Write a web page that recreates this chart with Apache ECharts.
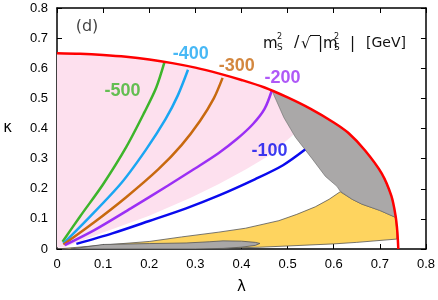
<!DOCTYPE html>
<html><head><meta charset="utf-8">
<script src="https://cdn.jsdelivr.net/npm/echarts@6/dist/echarts.min.js"></script>
<style>html,body{margin:0;padding:0;background:#fff}#c{width:438px;height:300px}</style>
</head><body><div id="c"></div>
<script>
const xTickLabels = ['0','0.1','0.2','0.3','0.4','0.5','0.6','0.7','0.8'];
const yTickLabels = ['0','0.1','0.2','0.3','0.4','0.5','0.6','0.7','0.8'];

const redBoundary = [[0,0.650],[0.05,0.648],[0.1,0.644],[0.15,0.638],[0.2,0.629],[0.25,0.617],[0.3,0.602],[0.35,0.583],[0.4,0.561],[0.45,0.536],[0.5,0.503],[0.55,0.465],[0.6,0.420],[0.632,0.385],[0.668,0.327],[0.704,0.251],[0.725,0.176],[0.734,0.111],[0.738,0.056],[0.740,0.0]];

const curveM500 = [[0.012,0.024],[0.05,0.108],[0.1,0.215],[0.15,0.338],[0.19,0.455],[0.215,0.535],[0.233,0.620]];
const curveM400 = [[0.0136,0.018],[0.07,0.105],[0.14,0.220],[0.193,0.330],[0.235,0.430],[0.262,0.510],[0.284,0.595]];
const curveM300 = [[0.014,0.015],[0.08,0.088],[0.15,0.172],[0.22,0.265],[0.27,0.345],[0.31,0.425],[0.34,0.500],[0.359,0.568]];
const curveM200 = [[0.017,0.013],[0.08,0.062],[0.16,0.135],[0.24,0.210],[0.3,0.268],[0.35,0.318],[0.39,0.365],[0.425,0.415],[0.45,0.465],[0.466,0.527]];
const curveM100 = [[0.042,0.017],[0.12,0.052],[0.2,0.093],[0.28,0.135],[0.35,0.177],[0.43,0.232],[0.49,0.278],[0.538,0.330]];

const pinkRegion = [[0,0.650],[0.05,0.648],[0.1,0.644],[0.15,0.638],[0.2,0.629],[0.25,0.617],[0.3,0.602],[0.35,0.583],[0.4,0.561],[0.45,0.536],[0.466,0.527],[0.470,0.512],[0.492,0.436],[0.513,0.380],[0.46,0.310],[0.41,0.265],[0.35,0.215],[0.29,0.170],[0.2,0.110],[0.1,0.055],[0.015,0.005],[0,0.005]];
const yellowRegion = [[0,0],[0.1,0.013],[0.2,0.025],[0.27,0.040],[0.351,0.056],[0.409,0.069],[0.481,0.094],[0.52,0.115],[0.56,0.140],[0.59,0.165],[0.614,0.190],[0.64,0.165],[0.661,0.149],[0.7,0.128],[0.734,0.105],[0.737,0.060],[0.737,0.033],[0.65,0.022],[0.6,0.017],[0.5,0.010],[0.44,0.006],[0.3,0],[0,0]];
const grayUpperRegion = [[0.466,0.527],[0.470,0.512],[0.492,0.436],[0.517,0.371],[0.553,0.300],[0.582,0.241],[0.607,0.208],[0.614,0.192],[0.64,0.165],[0.661,0.149],[0.7,0.128],[0.734,0.105],[0.734,0.111],[0.725,0.176],[0.704,0.251],[0.668,0.327],[0.632,0.385],[0.6,0.420],[0.55,0.465],[0.5,0.503]];
const grayLowerRegion = [[0.03,0],[0.1,0.015],[0.2,0.018],[0.28,0.020],[0.33,0.024],[0.36,0.027],[0.4,0.026],[0.43,0.022],[0.44,0.0185],[0.43,0.012],[0.4,0.006],[0.36,0.002],[0.3,0]];

const curveLabels = ['-500','-400','-300','-200','-100'];
const labelAnchors = [[0.142,0.524],[0.290,0.647],[0.390,0.608],[0.489,0.566],[0.461,0.325]];
const curveColors = ['#3db52b','#1aa6f2','#c8690f','#9b2ff5','#0a0aee'];
const panelTag = '(d)';
const panelAnchor = [[0.065,0.737]];

const chart = echarts.init(document.getElementById('c'), null, {renderer:'canvas'});

function poly(pts, fill, stroke, lw, z) {
  return {type:'custom', coordinateSystem:'cartesian2d', xAxisIndex:0, yAxisIndex:0, data: pts, silent:true, z:z, clip:true,
    renderItem:(params, api) => {
      if (params.dataIndex !== 0) return null;
      return {type:'polygon', shape:{points: pts.map(p => api.coord(p))}, style:{fill:fill, stroke:stroke, lineWidth:lw}};
    }};
}
function curve(pts, color, z, w) {
  return {type:'line', data: pts, xAxisIndex:0, yAxisIndex:0, showSymbol:false, smooth:0.3, silent:true, z:z,
    lineStyle:{color:color, width:w}};
}
const tickFmtX = v => xTickLabels[Math.round(v*10)];
const tickFmtY = v => yTickLabels[Math.round(v*10)];
const axLine = {show:true, onZero:false, lineStyle:{color:'#000', width:1.5}};
const axTick = {show:true, inside:true, length:5, lineStyle:{color:'#000', width:1}};
const baseFont = 'Liberation Sans, Arial, sans-serif';

const curves = [curveM500, curveM400, curveM300, curveM200, curveM100];
const series = [
  poly(pinkRegion, '#fde0ee', 'none', 0, 1),
  poly(yellowRegion, '#fed45f', '#555', 0.8, 2),
  poly(grayUpperRegion, '#aaa8a8', '#666', 0.6, 3),
  poly(grayLowerRegion, '#a9a7a7', '#555', 0.8, 3),
];
curves.forEach((c,i) => series.push(curve(c, curveColors[i], 5, 2.5)));
series.push(curve(redBoundary, '#ff0000', 6, 2.5));
series.push({type:'scatter', data: labelAnchors.map((p,i)=>({value:p, label:{show:true, formatter:curveLabels[i], color:curveColors[i]}})),
  symbolSize:0, silent:true, z:7,
  label:{position:'inside', fontSize:18, fontWeight:'bold', fontFamily:baseFont}});
series.push({type:'scatter', data: panelAnchor, symbolSize:0, silent:true, z:7,
  label:{show:true, position:'inside', formatter:panelTag, fontSize:16, color:'#111', fontFamily:'DejaVu Sans, sans-serif'}});

const mt = (t, x, y, size, extra) => Object.assign({type:'text', x:x, y:y, z:10, silent:true,
  style:{text:t, fontSize:size, fontFamily:'DejaVu Sans, sans-serif', fill:'#111', textVerticalAlign:'middle', textAlign:'left'}}, extra||{});

chart.setOption({
  animation:false,
  backgroundColor:'#fff',
  grid:{left:57, right:10, top:8, bottom:46, containLabel:false},
  xAxis:[
    {type:'value', min:0, max:0.8, interval:0.1, position:'bottom', axisLine:axLine, axisTick:axTick,
     axisLabel:{formatter:tickFmtX, color:'#000', fontSize:13, fontFamily:baseFont, margin:9},
     splitLine:{show:false}, name:'λ', nameLocation:'middle', nameGap:31,
     nameTextStyle:{fontSize:15, color:'#000', fontFamily:'DejaVu Sans, sans-serif'}},
    {type:'value', min:0, max:0.8, interval:0.1, position:'top', axisLine:axLine, axisTick:axTick,
     axisLabel:{show:false}, splitLine:{show:false}}
  ],
  yAxis:[
    {type:'value', min:0, max:0.8, interval:0.1, position:'left', axisLine:axLine, axisTick:axTick,
     axisLabel:{formatter:tickFmtY, color:'#000', fontSize:13, fontFamily:baseFont, margin:9},
     splitLine:{show:false}, name:'κ', nameLocation:'middle', nameGap:45, nameRotate:0,
     nameTextStyle:{fontSize:15, color:'#000', fontFamily:'DejaVu Sans, sans-serif'}},
    {type:'value', min:0, max:0.8, interval:0.1, position:'right', axisLine:axLine, axisTick:axTick,
     axisLabel:{show:false}, splitLine:{show:false}}
  ],
  series: series,
  graphic: [
    mt('m', 263, 44, 15),
    mt('2', 277, 37, 8),
    mt('S', 277, 48, 9),
    mt('/', 294, 43, 16),
    mt('√', 301, 44, 15),
    {type:'line', silent:true, z:10, shape:{x1:310, y1:35.5, x2:320, y2:35.5}, style:{stroke:'#111', lineWidth:1}},
    mt('|m', 318, 44, 15),
    mt('2', 334, 37, 8),
    mt('S', 334, 48, 9),
    mt('|', 350, 44, 15),
    mt('[GeV]', 366, 43, 14)
  ]
});
</script></body></html>
